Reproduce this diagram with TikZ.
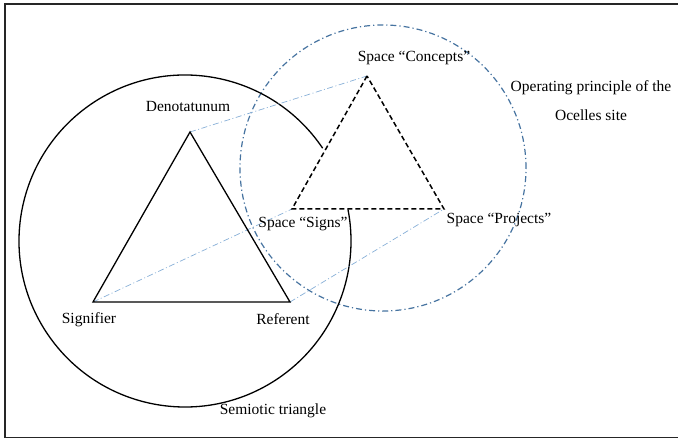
\documentclass[tikz,border=0pt]{standalone}
\usepackage{fontspec}
\setmainfont{Liberation Serif}
\definecolor{ringblue}{RGB}{70,115,160}
\definecolor{linkblue}{RGB}{135,175,215}
\begin{document}
\begin{tikzpicture}[x=1pt,y=1pt,
  lbl/.style={inner sep=0pt,font=\fontsize{15.5}{18}\selectfont},
  solidtri/.style={line width=1.3pt,line join=miter},
  dashtri/.style={line width=1.5pt,dash pattern=on 5pt off 3pt},
  ring/.style={ringblue,line width=1.2pt,dash pattern=on 6pt off 3pt on 1.2pt off 3pt},
  link/.style={linkblue,line width=0.7pt,dash pattern=on 6pt off 2.5pt on 1pt off 2.5pt},
  frame/.style={line width=1.5pt,black!85}]
\useasboundingbox (0,0) rectangle (678,439);
\draw[frame] (679,1.5) -- (5,1.5) -- (5,435) -- (679,435);
% coordinates
\coordinate (D) at (190,307);
\coordinate (S) at (93,137);
\coordinate (R) at (290,137);
\coordinate (C) at (367,363);
\coordinate (Sg) at (292,230);
\coordinate (P) at (444,230);
\coordinate (bc) at (185,198);
\coordinate (rc) at (383,271);
% blue ring
\draw[ring] (rc) circle[radius=143];
% black arc
\draw[line width=1.3pt] (bc) ++(34:166) arc[start angle=34,end angle=371,radius=166];
% links
\draw[link] (D) -- (C);
\draw[link] (S) -- (Sg);
\draw[link] (R) -- (P);
% triangles
\draw[solidtri] (D) -- (S) -- (R) -- cycle;
\draw[dashtri] (C) -- (Sg) -- (P) -- cycle;
% labels
\node[lbl] (lD) at (188,332) {Denotatunum};
\node[lbl] (lC) at (414,381) {Space “Concepts”};
\node[lbl] (lO1) at (591,351) {Operating principle of the};
\node[lbl] (lO2) at (591,324) {Ocelles site};
\node[lbl] (lSg) at (303,215) {Space “Signs”};
\node[lbl] (lP) at (499,219) {Space “Projects”};
\node[lbl] (lS) at (89,119) {Signifier};
\node[lbl] (lR) at (283,120) {Referent};
\node[lbl] (lT) at (273,28) {Semiotic triangle};
\end{tikzpicture}
\end{document}
